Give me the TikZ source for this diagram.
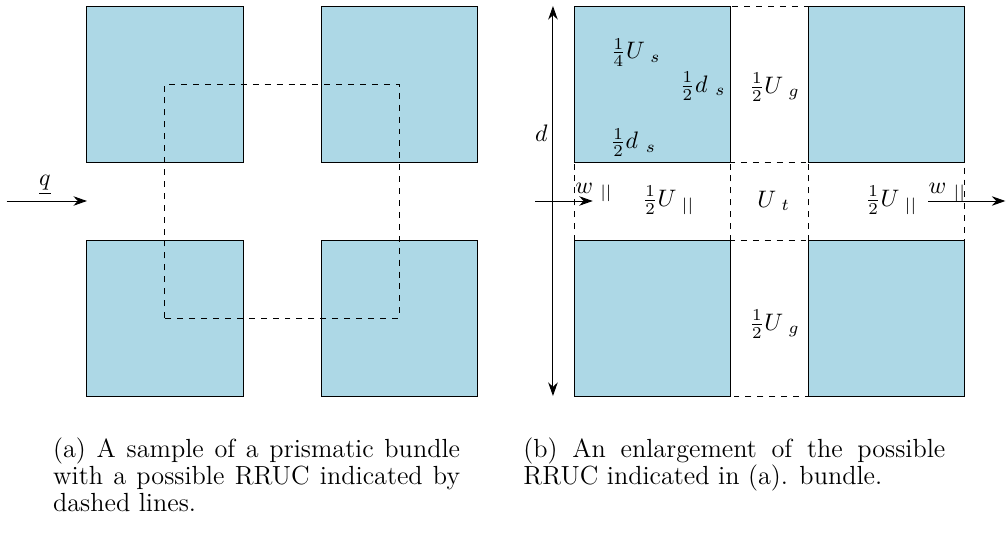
\documentclass[tikz,border=0pt]{standalone}
\usetikzlibrary{arrows.meta}
\definecolor{prismblue}{RGB}{173,216,230}
\tikzset{
  prism/.style={draw,fill=prismblue},
  cell/.style={dash pattern=on 2.5pt off 2.5pt},
  flow/.style={-{Stealth[length=2mm,width=1.4mm]}},
  both/.style={{Stealth[length=2mm,width=1.4mm]}-{Stealth[length=2mm,width=1.4mm]}},
  subcap/.style={anchor=north west,inner sep=0pt,align=justify,
    font=\fontsize{11}{11.33}\selectfont},
}
\begin{document}
\begin{tikzpicture}[x=1.15cm,y=1.15cm]
  \useasboundingbox (-1.115,-1.795) rectangle (11.782,5.077);

  % (a) sample of the bundle
  \draw[prism] (0,0) rectangle (2,2);
  \draw[prism] (3,0) rectangle (5,2);
  \draw[prism] (0,3) rectangle (2,5);
  \draw[prism] (3,3) rectangle (5,5);
  \draw[cell] (1,1) rectangle (4,4);

  \coordinate (qin) at (-1.03,2.5);
  \coordinate (qout) at (0,2.5);
  \draw[flow] (qin) -- (qout);
  \node (q) at (-0.54,2.7) {$\underline{q}$};

  \node[subcap,text width=6cm] (capa) at (-0.44,-0.526)
    {(a) A sample of a prismatic bundle with a possible RRUC indicated by dashed lines.};

  % (b) enlarged RRUC
  \begin{scope}[shift={(6.244,0)}]
    \draw[cell] (0,0) rectangle (5,5);
    \draw[cell] (0,2) -- (5,2);
    \draw[cell] (0,3) -- (5,3);
    \draw[cell] (2,0) -- (2,5);
    \draw[cell] (3,0) -- (3,5);

    \draw[prism] (0,0) rectangle (2,2);
    \draw[prism] (3,0) rectangle (5,2);
    \draw[prism] (0,3) rectangle (2,5);
    \draw[prism] (3,3) rectangle (5,5);

    \coordinate (dbot) at (-0.27,0);
    \coordinate (dtop) at (-0.27,5);
    \draw[both] (dbot) -- (dtop);
    \node (d) at (-0.42,3.37) {$d$};

    \coordinate (win) at (-0.5,2.5);
    \coordinate (wto) at (0.24,2.5);
    \draw[flow] (win) -- (wto);
    \node[anchor=base west,inner sep=0pt] (wl) at (0.01,2.6) {$w_{\ ||}$};

    \coordinate (wfrom) at (4.54,2.5);
    \coordinate (wout) at (5.53,2.5);
    \draw[flow] (wfrom) -- (wout);
    \node[anchor=base west,inner sep=0pt] (wr) at (4.54,2.6) {$w_{\ ||}$};

    \node (us) at (0.79,4.40) {$\frac{1}{4}U_{\ s}$};
    \node (dsa) at (1.65,3.97) {$\frac{1}{2}d_{\ s}$};
    \node (dsb) at (0.76,3.25) {$\frac{1}{2}d_{\ s}$};
    \node (uga) at (2.57,3.96) {$\frac{1}{2}U_{\ g}$};
    \node (ula) at (1.21,2.51) {$\frac{1}{2}U_{\ ||}$};
    \node (ut) at (2.56,2.50) {$U_{\ t}$};
    \node (ulb) at (4.07,2.51) {$\frac{1}{2}U_{\ ||}$};
    \node (ugb) at (2.57,0.92) {$\frac{1}{2}U_{\ g}$};

    \node[subcap,text width=6.22cm] (capb) at (-0.654,-0.526)
      {(b) An enlargement of the possible RRUC indicated in (a). bundle.};
  \end{scope}
\end{tikzpicture}
\end{document}
